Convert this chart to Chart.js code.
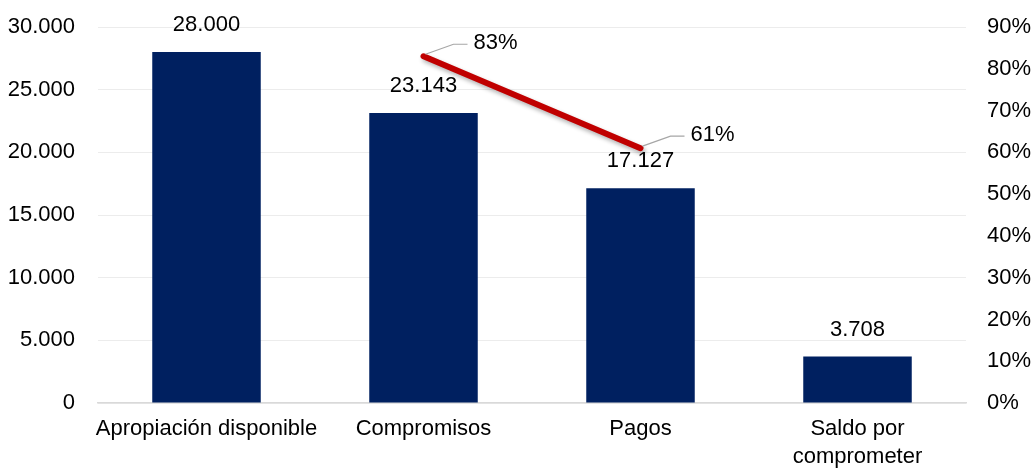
<!DOCTYPE html>
<html>
<head>
<meta charset="utf-8">
<script src="https://cdn.jsdelivr.net/npm/chart.js@4/dist/chart.umd.min.js"></script>
<style>
html,body{margin:0;padding:0;background:#fff;}
#wrap{width:1032px;height:475px;}
</style>
</head>
<body>
<div id="wrap"><canvas id="c" width="1032" height="475"></canvas></div>
<script>
const categories = ['Apropiación disponible', 'Compromisos', 'Pagos', ['Saldo por', 'comprometer']];
const barValues = [28000, 23143, 17127, 3708];
const pctValues = [null, 0.83, 0.61, null];
const leftMax = 30000, leftStep = 5000;
const rightMax = 0.9, rightStep = 0.1;

const FONT = "'Liberation Sans', Arial, sans-serif";
const fmtNum = v => Math.round(v).toString().replace(/\B(?=(\d{3})+(?!\d))/g, '.');
const fmtPct = v => Math.round(v * 100) + '%';

const labelPlugin = {
  id: 'labels',
  beforeDatasetDraw(chart, args) {
    if (args.index === 1) {
      const ctx = chart.ctx;
      ctx.save();
      ctx.shadowColor = 'rgba(0,0,0,0.3)';
      ctx.shadowBlur = 4;
      ctx.shadowOffsetX = 2;
      ctx.shadowOffsetY = 3;
    }
  },
  afterDatasetDraw(chart, args) {
    if (args.index === 1) chart.ctx.restore();
  },
  afterDatasetsDraw(chart) {
    const ctx = chart.ctx;
    ctx.save();
    ctx.font = '22px ' + FONT;
    ctx.fillStyle = '#000';
    const bm = chart.getDatasetMeta(0);
    ctx.textAlign = 'center';
    ctx.textBaseline = 'middle';
    bm.data.forEach((el, i) => {
      ctx.fillText(fmtNum(barValues[i]), el.x, el.y - 27);
    });
    const lm = chart.getDatasetMeta(1);
    ctx.textAlign = 'left';
    lm.data.forEach((el, i) => {
      const v = pctValues[i];
      if (v === null) return;
      const x0 = el.x + 2, y0 = el.y - 2;
      const x1 = el.x + 30, y1 = el.y - 12;
      const x2 = el.x + 44;
      ctx.strokeStyle = '#a6a6a6';
      ctx.lineWidth = 1.2;
      ctx.beginPath();
      ctx.moveTo(x0, y0);
      ctx.lineTo(x1, y1);
      ctx.lineTo(x2, y1);
      ctx.stroke();
      ctx.fillText(fmtPct(v), x2 + 6, y1 - 1);
    });
    ctx.restore();
  }
};

new Chart(document.getElementById('c'), {
  data: {
    labels: categories,
    datasets: [
      {
        type: 'bar',
        data: barValues,
        backgroundColor: '#002060',
        yAxisID: 'y',
        barPercentage: 0.5,
        categoryPercentage: 1.0,
        order: 1
      },
      {
        type: 'line',
        data: pctValues,
        borderColor: '#c00000',
        borderWidth: 6,
        borderCapStyle: 'round',
        pointRadius: 0,
        spanGaps: false,
        yAxisID: 'y2',
        order: 0
      }
    ]
  },
  options: {
    responsive: false,
    animation: false,
    layout: { padding: { top: 27, left: 0, right: 0, bottom: 0 } },
    plugins: { legend: { display: false }, tooltip: { enabled: false } },
    scales: {
      x: {
        grid: { display: false, drawTicks: false },
        border: { display: true, color: '#d9d9d9', width: 1.5 },
        ticks: { color: '#000', font: { family: FONT, size: 22, lineHeight: 1.27 }, padding: 12, maxRotation: 0, autoSkip: false },
        afterFit(s) { s.height = 72; s.paddingLeft = 0; s.paddingRight = 0; }
      },
      y: {
        position: 'left',
        min: 0, max: leftMax,
        ticks: { stepSize: leftStep, color: '#000', font: { family: FONT, size: 22 }, padding: 23, callback: v => fmtNum(v) },
        grid: { color: '#ececec', lineWidth: 1, drawTicks: false },
        border: { display: false },
        afterFit(s) { s.width = 98; s.paddingTop = 0; s.paddingBottom = 0; }
      },
      y2: {
        position: 'right',
        min: 0, max: rightMax,
        ticks: { stepSize: rightStep, color: '#000', font: { family: FONT, size: 22 }, padding: 21, callback: v => fmtPct(v) },
        grid: { display: false, drawTicks: false },
        border: { display: false },
        afterFit(s) { s.width = 66; s.paddingTop = 0; s.paddingBottom = 0; }
      }
    }
  },
  plugins: [labelPlugin]
});
</script>
</body>
</html>
